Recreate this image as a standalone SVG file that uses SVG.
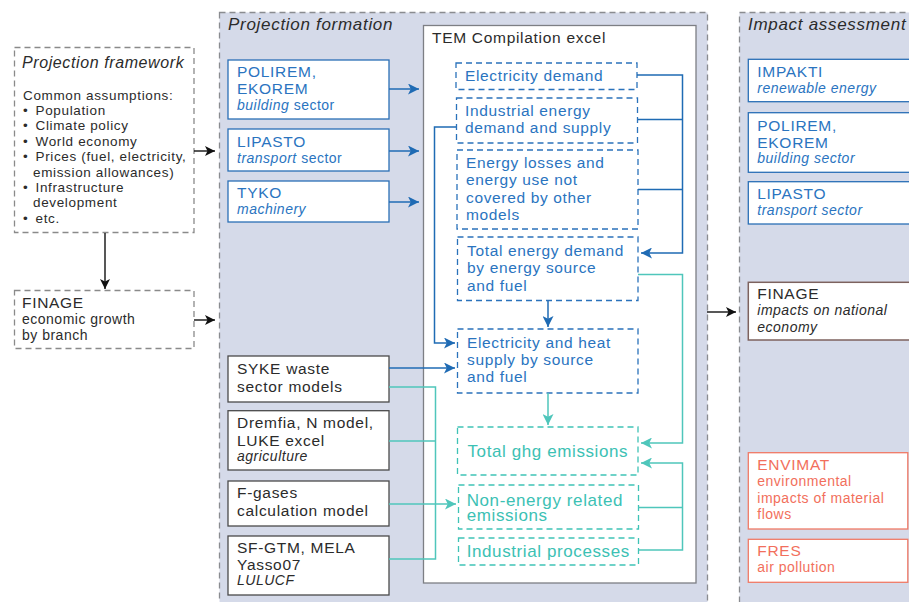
<svg xmlns="http://www.w3.org/2000/svg" width="909" height="602" viewBox="0 0 909 602">
<defs>
<style>
text{font-family:"Liberation Sans",Arial,sans-serif;}
.panel{fill:#d5dae9;stroke:#8a8c90;stroke-width:1.3;stroke-dasharray:6 4;}
.fw{fill:#fff;stroke:#8a8a8a;stroke-width:1.3;stroke-dasharray:6 4;}
.tem{fill:#fff;stroke:#7d7f84;stroke-width:1.3;}
.bbox{fill:#fff;stroke:#2a6fb6;stroke-width:1.3;}
.gbox{fill:#fff;stroke:#4a4a4a;stroke-width:1.3;}
.brbox{fill:#fff;stroke:#7d625e;stroke-width:1.5;}
.sbox{fill:#fff;stroke:#f07a66;stroke-width:1.3;}
.bdash{fill:#fff;stroke:#2a72bb;stroke-width:1.3;stroke-dasharray:6 4;}
.tdash{fill:#fff;stroke:#3fc3b6;stroke-width:1.3;stroke-dasharray:6 4;}
.ptitle{font-size:17px;letter-spacing:0.7px;font-style:italic;fill:#2b2b2b;}
.dk{fill:#2b2b2b;}
.bl{fill:#2a74bf;}
.tl{fill:#3cc1b4;}
.sa{fill:#f26f5c;}
.m{font-size:15.5px;letter-spacing:0.7px;}
.s{font-size:14px;letter-spacing:0.5px;}
.fb{font-size:13.5px;letter-spacing:0.65px;}
.it{font-style:italic;}
.in{font-size:15.5px;letter-spacing:0.65px;}
.tg{font-size:17px;letter-spacing:0.6px;}
.cb{fill:none;stroke:#111;stroke-width:1.4;}
.cbl{fill:none;stroke:#1f6bb4;stroke-width:1.5;}
.ct{fill:none;stroke:#4fc6bb;stroke-width:1.5;}
</style>
<marker id="ak" viewBox="0 0 10 10" refX="10" refY="5" markerWidth="10" markerHeight="10" markerUnits="userSpaceOnUse" orient="auto"><path d="M0,0 L10,5 L0,10 L2.5,5 z" fill="#111"/></marker>
<marker id="ab" viewBox="0 0 10 10" refX="10" refY="5" markerWidth="11" markerHeight="11" markerUnits="userSpaceOnUse" orient="auto"><path d="M0,0 L10,5 L0,10 L2.5,5 z" fill="#1f6bb4"/></marker>
<marker id="at" viewBox="0 0 10 10" refX="10" refY="5" markerWidth="11" markerHeight="11" markerUnits="userSpaceOnUse" orient="auto"><path d="M0,0 L10,5 L0,10 L2.5,5 z" fill="#4fc6bb"/></marker>
</defs>
<rect width="909" height="602" fill="#fff"/>

<g id="panel-projection-formation">
<rect class="panel" x="219.5" y="12.5" width="488" height="595"/>
<text class="ptitle" x="228" y="30">Projection formation</text>
</g>
<g id="panel-impact-assessment">
<rect class="panel" x="739.5" y="12.5" width="200" height="595"/>
<text class="ptitle" x="748" y="30">Impact assessment</text>
</g>

<g id="projection-framework">
<rect class="fw" x="14.5" y="47.5" width="179.5" height="185"/>
<text x="22" y="68.3" class="dk it" style="font-size:16px;letter-spacing:0.6px">Projection framework</text>
<g class="dk fb">
<text x="23" y="99.7">Common assumptions:</text>
<text x="23" y="115"><tspan>•</tspan><tspan x="35.5">Population</tspan></text>
<text x="23" y="130.4"><tspan>•</tspan><tspan x="35.5">Climate policy</tspan></text>
<text x="23" y="145.8"><tspan>•</tspan><tspan x="35.5">World economy</tspan></text>
<text x="23" y="161.2"><tspan>•</tspan><tspan x="35.5">Prices (fuel, electricity,</tspan></text>
<text x="33" y="176.6">emission allowances)</text>
<text x="23" y="192"><tspan>•</tspan><tspan x="35.5">Infrastructure</tspan></text>
<text x="33" y="207.4">development</text>
<text x="23" y="222.8"><tspan>•</tspan><tspan x="35.5">etc.</tspan></text>
</g>
</g>

<g id="finage-left">
<rect class="fw" x="14.5" y="290.5" width="179.5" height="58"/>
<text x="22" y="308.3" class="dk m">FINAGE</text>
<text x="22" y="324" class="dk s">economic growth</text>
<text x="22" y="339.5" class="dk s">by branch</text>
</g>

<g id="tem">
<rect class="tem" x="423.5" y="25.5" width="272.5" height="557.5"/>
<text x="432" y="43" class="dk" style="font-size:15.5px;letter-spacing:0.7px">TEM Compilation excel</text>
</g>

<g id="polirem-left">
<rect class="bbox" x="228" y="60" width="161" height="59"/>
<text x="237" y="77" class="bl m">POLIREM,</text>
<text x="237" y="94" class="bl m">EKOREM</text>
<text x="237" y="110" class="bl s"><tspan class="it">building</tspan> sector</text>
</g>
<g id="lipasto-left">
<rect class="bbox" x="228" y="129" width="161" height="42"/>
<text x="237" y="147" class="bl m">LIPASTO</text>
<text x="237" y="163" class="bl s"><tspan class="it">transport</tspan> sector</text>
</g>
<g id="tyko">
<rect class="bbox" x="228" y="181" width="161" height="41"/>
<text x="237" y="198" class="bl m">TYKO</text>
<text x="237" y="214" class="bl s it">machinery</text>
</g>

<g id="syke">
<rect class="gbox" x="228" y="356" width="161" height="46"/>
<text x="237" y="374" class="dk m">SYKE  waste</text>
<text x="237" y="391.7" class="dk m">sector models</text>
</g>
<g id="dremfia">
<rect class="gbox" x="228" y="410.7" width="161" height="59.3"/>
<text x="237" y="428.3" class="dk m">Dremfia, N model,</text>
<text x="237" y="445.7" class="dk m">LUKE  excel</text>
<text x="237" y="461" class="dk s it">agriculture</text>
</g>
<g id="fgases">
<rect class="gbox" x="228" y="481" width="161" height="45"/>
<text x="237" y="498.3" class="dk m">F-gases</text>
<text x="237" y="515.7" class="dk m">calculation model</text>
</g>
<g id="sfgtm">
<rect class="gbox" x="228" y="536" width="161" height="59"/>
<text x="237" y="553.3" class="dk m">SF-GTM, MELA</text>
<text x="237" y="570" class="dk m">Yasso07</text>
<text x="237" y="585.3" class="dk s it">LULUCF</text>
</g>

<g id="electricity-demand">
<rect class="bdash" x="456" y="63" width="181" height="26.5"/>
<text x="465" y="80.7" class="bl in">Electricity demand</text>
</g>
<g id="industrial-energy">
<rect class="bdash" x="456.5" y="98" width="181" height="45"/>
<text x="465" y="115.7" class="bl in">Industrial energy</text>
<text x="465" y="132.7" class="bl in">demand and supply</text>
</g>
<g id="energy-losses">
<rect class="bdash" x="457" y="150" width="181" height="79"/>
<text x="466" y="167.7" class="bl in">Energy losses and</text>
<text x="466" y="185" class="bl in">energy use not</text>
<text x="466" y="202.5" class="bl in">covered by other</text>
<text x="466" y="219.5" class="bl in">models</text>
</g>
<g id="total-energy-demand">
<rect class="bdash" x="457.5" y="237" width="180.5" height="63.5"/>
<text x="467" y="256" class="bl in">Total energy demand</text>
<text x="467" y="272.7" class="bl in">by energy source</text>
<text x="467" y="291" class="bl in">and fuel</text>
</g>
<g id="electricity-heat-supply">
<rect class="bdash" x="457.5" y="329" width="180.5" height="64"/>
<text x="467" y="347.7" class="bl in">Electricity and heat</text>
<text x="467" y="364.5" class="bl in">supply by source</text>
<text x="467" y="382" class="bl in">and fuel</text>
</g>
<g id="total-ghg">
<rect class="tdash" x="457.5" y="427" width="180.5" height="48"/>
<text x="467.5" y="456.7" class="tl tg">Total ghg emissions</text>
</g>
<g id="non-energy">
<rect class="tdash" x="458.5" y="485" width="180" height="44"/>
<text x="466.7" y="506" class="tl tg">Non-energy related</text>
<text x="466.7" y="521" class="tl tg">emissions</text>
</g>
<g id="industrial-processes">
<rect class="tdash" x="458.5" y="538" width="180" height="27"/>
<text x="466.7" y="557" class="tl tg">Industrial processes</text>
</g>

<g id="impakti">
<rect class="bbox" x="748.3" y="59.3" width="170" height="42.4"/>
<text x="757.3" y="77.3" class="bl m">IMPAKTI</text>
<text x="757.3" y="92.7" class="bl s it">renewable energy</text>
</g>
<g id="polirem-right">
<rect class="bbox" x="748.3" y="112.7" width="170" height="59.6"/>
<text x="757.3" y="130.7" class="bl m">POLIREM,</text>
<text x="757.3" y="147.7" class="bl m">EKOREM</text>
<text x="757.3" y="163.3" class="bl s it">building sector</text>
</g>
<g id="lipasto-right">
<rect class="bbox" x="748.3" y="181.7" width="170" height="42.3"/>
<text x="757.3" y="199.3" class="bl m">LIPASTO</text>
<text x="757.3" y="214.5" class="bl s it">transport sector</text>
</g>
<g id="finage-right">
<rect class="brbox" x="748.3" y="282.3" width="170" height="57.7"/>
<text x="757.3" y="299.3" class="dk m">FINAGE</text>
<text x="757.3" y="315.3" class="dk s it">impacts on national</text>
<text x="757.3" y="331.7" class="dk s it">economy</text>
</g>
<g id="envimat">
<rect class="sbox" x="748.3" y="452.7" width="159.5" height="76.3"/>
<text x="757.3" y="470" class="sa m">ENVIMAT</text>
<text x="757.3" y="486" class="sa s">environmental</text>
<text x="757.3" y="502.7" class="sa s">impacts of material</text>
<text x="757.3" y="518.5" class="sa s">flows</text>
</g>
<g id="fres">
<rect class="sbox" x="748.3" y="539.3" width="159.5" height="43"/>
<text x="757.3" y="556.3" class="sa m">FRES</text>
<text x="757.3" y="572" class="sa s">air pollution</text>
</g>

<g id="connectors">
<path class="cb" d="M194,151 H215" marker-end="url(#ak)"/>
<path class="cb" d="M105,233 V289" marker-end="url(#ak)"/>
<path class="cb" d="M194,320 H215" marker-end="url(#ak)"/>
<path class="cb" d="M707,312 H736" marker-end="url(#ak)"/>

<path class="cbl" d="M389,89 H419" marker-end="url(#ab)"/>
<path class="cbl" d="M389,151 H419" marker-end="url(#ab)"/>
<path class="cbl" d="M389,202 H419" marker-end="url(#ab)"/>
<path class="cbl" d="M389,368 H455" marker-end="url(#ab)"/>
<path class="cbl" d="M456,127 H434.5 V343 H455" marker-end="url(#ab)"/>
<path class="cbl" d="M637,75 H682.5 V253 H641" marker-end="url(#ab)"/>
<path class="cbl" d="M638,119.5 H682.5"/>
<path class="cbl" d="M638,189.5 H682.5"/>
<path class="cbl" d="M548,301 V327" marker-end="url(#ab)"/>

<path class="ct" d="M548,393 V425" marker-end="url(#at)"/>
<path class="ct" d="M638,274.5 H682.5 V443 H641" marker-end="url(#at)"/>
<path class="ct" d="M638.5,550 H682.5 V463 H641" marker-end="url(#at)"/>
<path class="ct" d="M638.5,507.5 H682.5"/>
<path class="ct" d="M389,387 H435.5 V559 H389"/>
<path class="ct" d="M389,441 H435.5"/>
<path class="ct" d="M389,504 H456" marker-end="url(#at)"/>
</g>
</svg>
